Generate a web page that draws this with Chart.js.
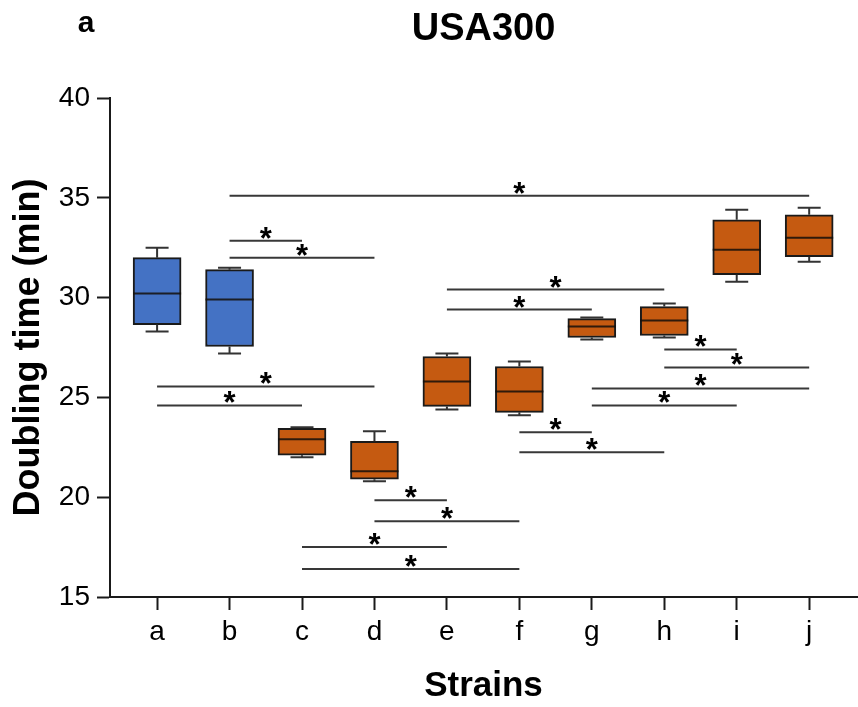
<!DOCTYPE html>
<html>
<head>
<meta charset="utf-8">
<title>USA300 doubling time</title>
<script src="https://cdn.jsdelivr.net/npm/chart.js@4.4.1/dist/chart.umd.min.js"></script>
<style>
  html, body { margin: 0; padding: 0; background: #fff; }
  #wrap { width: 858px; height: 707px; }
</style>
</head>
<body>
<div id="wrap"><canvas id="grafico" width="858" height="707"></canvas></div>
<script>
// Estirpes e estatísticas das caixas (min)
const categorias = ['a', 'b', 'c', 'd', 'e', 'f', 'g', 'h', 'i', 'j'];
const bigodeInf = [28.3, 27.2, 22.0, 20.8, 24.4, 24.1, 27.9, 28.0, 30.8, 31.8];
const quartil1 = [28.65, 27.55, 22.1, 20.9, 24.55, 24.25, 28.0, 28.1, 31.15, 32.05];
const mediana = [30.2, 29.9, 22.9, 21.3, 25.8, 25.3, 28.55, 28.85, 32.4, 33.0];
const quartil3 = [32.0, 31.4, 23.45, 22.8, 27.05, 26.55, 28.95, 29.55, 33.9, 34.15];
const bigodeSup = [32.5, 31.5, 23.5, 23.3, 27.2, 26.8, 29.0, 29.7, 34.4, 34.5];
const grupoCor = ['azul', 'azul', 'laranja', 'laranja', 'laranja', 'laranja', 'laranja', 'laranja', 'laranja', 'laranja'];

// Comparações significativas: [índice inicial, índice final, altura]
const compIni = [1, 1, 1, 0, 0, 3, 3, 2, 2, 4, 4, 5, 5, 7, 7, 6, 6];
const compFim = [9, 2, 3, 3, 2, 4, 5, 4, 5, 7, 6, 6, 7, 8, 9, 9, 8];
const compAltura = [35.1, 32.85, 32.0, 25.55, 24.6, 19.85, 18.8, 17.5, 16.4, 30.4, 29.4, 23.25, 22.25, 27.4, 26.5, 25.45, 24.6];

const yTicks = [15, 20, 25, 30, 35, 40];

const cores = { azul: '#4472C4', laranja: '#C55A11' };
const fonte = "'Liberation Sans', Arial, sans-serif";

// Bigodes, medianas, barras de significância, título e letra do painel
const boxPlugin = {
    id: 'boxExtras',
    afterDatasetsDraw(chart) {
        const { ctx, scales: { x, y } } = chart;
        ctx.save();
        ctx.lineCap = 'butt';

        // bigodes
        ctx.strokeStyle = '#333';
        ctx.lineWidth = 2;
        categorias.forEach((c, i) => {
            const px = x.getPixelForValue(i);
            const meio = 11.5;
            ctx.beginPath();
            ctx.moveTo(px, y.getPixelForValue(quartil3[i]));
            ctx.lineTo(px, y.getPixelForValue(bigodeSup[i]));
            ctx.moveTo(px - meio, y.getPixelForValue(bigodeSup[i]));
            ctx.lineTo(px + meio, y.getPixelForValue(bigodeSup[i]));
            ctx.moveTo(px, y.getPixelForValue(quartil1[i]));
            ctx.lineTo(px, y.getPixelForValue(bigodeInf[i]));
            ctx.moveTo(px - meio, y.getPixelForValue(bigodeInf[i]));
            ctx.lineTo(px + meio, y.getPixelForValue(bigodeInf[i]));
            ctx.stroke();
        });

        // medianas
        ctx.strokeStyle = 'rgba(20,15,10,0.85)';
        ctx.lineWidth = 2;
        categorias.forEach((c, i) => {
            const px = x.getPixelForValue(i);
            const py = y.getPixelForValue(mediana[i]);
            ctx.beginPath();
            ctx.moveTo(px - 24, py);
            ctx.lineTo(px + 24, py);
            ctx.stroke();
        });

        // barras de significância
        ctx.strokeStyle = '#383838';
        ctx.lineWidth = 2;
        ctx.fillStyle = '#000';
        ctx.font = `bold 31px ${fonte}`;
        ctx.textAlign = 'center';
        ctx.textBaseline = 'alphabetic';
        compIni.forEach((ini, k) => {
            const x1 = x.getPixelForValue(ini);
            const x2 = x.getPixelForValue(compFim[k]);
            const py = y.getPixelForValue(compAltura[k]);
            ctx.beginPath();
            ctx.moveTo(x1, py);
            ctx.lineTo(x2, py);
            ctx.stroke();
            ctx.fillText('*', (x1 + x2) / 2, py + 8);
        });
        ctx.restore();
    },
    afterDraw(chart) {
        const { ctx, chartArea } = chart;
        ctx.save();
        ctx.fillStyle = '#000';
        ctx.textAlign = 'center';
        ctx.textBaseline = 'middle';
        ctx.font = `bold 38px ${fonte}`;
        ctx.fillText('USA300', (chartArea.left + chartArea.right) / 2, 30);
        ctx.font = `bold 30px ${fonte}`;
        ctx.fillText('a', 86, 24);
        ctx.restore();
    }
};

const ctx = document.getElementById('grafico').getContext('2d');
new Chart(ctx, {
    type: 'bar',
    data: {
        datasets: [{
            data: categorias.map((c, i) => ({ x: i, y: [quartil1[i], quartil3[i]] })),
            backgroundColor: grupoCor.map(g => cores[g]),
            borderColor: '#1a1a1a',
            borderWidth: 2,
            borderSkipped: false,
            barThickness: 48
        }]
    },
    options: {
        responsive: false,
        animation: false,
        layout: { padding: { left: 0, right: 1, top: 98, bottom: 0 } },
        plugins: {
            legend: { display: false },
            tooltip: { enabled: false },
            title: { display: false }
        },
        scales: {
            x: {
                type: 'linear',
                offset: false,
                min: -0.65,
                max: 9.66,
                afterBuildTicks: s => { s.ticks = categorias.map((c, i) => ({ value: i })); },
                afterFit: s => { s.height = 110; },
                ticks: {
                    callback: v => categorias[v] ?? '',
                    color: '#000',
                    font: { family: fonte, size: 28 },
                    padding: 5,
                    maxRotation: 0,
                    autoSkip: false
                },
                grid: { offset: false, drawOnChartArea: false, drawTicks: true, tickLength: 13, tickWidth: 2, tickColor: '#1a1a1a' },
                border: { display: true, width: 2, color: '#1a1a1a' },
                title: {
                    display: true,
                    text: 'Strains',
                    color: '#000',
                    font: { family: fonte, size: 35, weight: 'bold' },
                    padding: { top: 0, bottom: 0 }
                }
            },
            y: {
                min: 15,
                max: 40,
                afterBuildTicks: s => { s.ticks = yTicks.map(v => ({ value: v })); },
                afterFit: s => { s.width = 110; },
                ticks: {
                    color: '#000',
                    font: { family: fonte, size: 28 },
                    padding: 7
                },
                grid: { drawOnChartArea: false, drawTicks: true, tickLength: 13, tickWidth: 2, tickColor: '#1a1a1a' },
                border: { display: true, width: 2, color: '#1a1a1a' },
                title: {
                    display: true,
                    text: 'Doubling time (min)',
                    color: '#000',
                    font: { family: fonte, size: 36, weight: 'bold' },
                    padding: { top: 7, bottom: 0 }
                }
            }
        }
    },
    plugins: [boxPlugin]
});
</script>
</body>
</html>
